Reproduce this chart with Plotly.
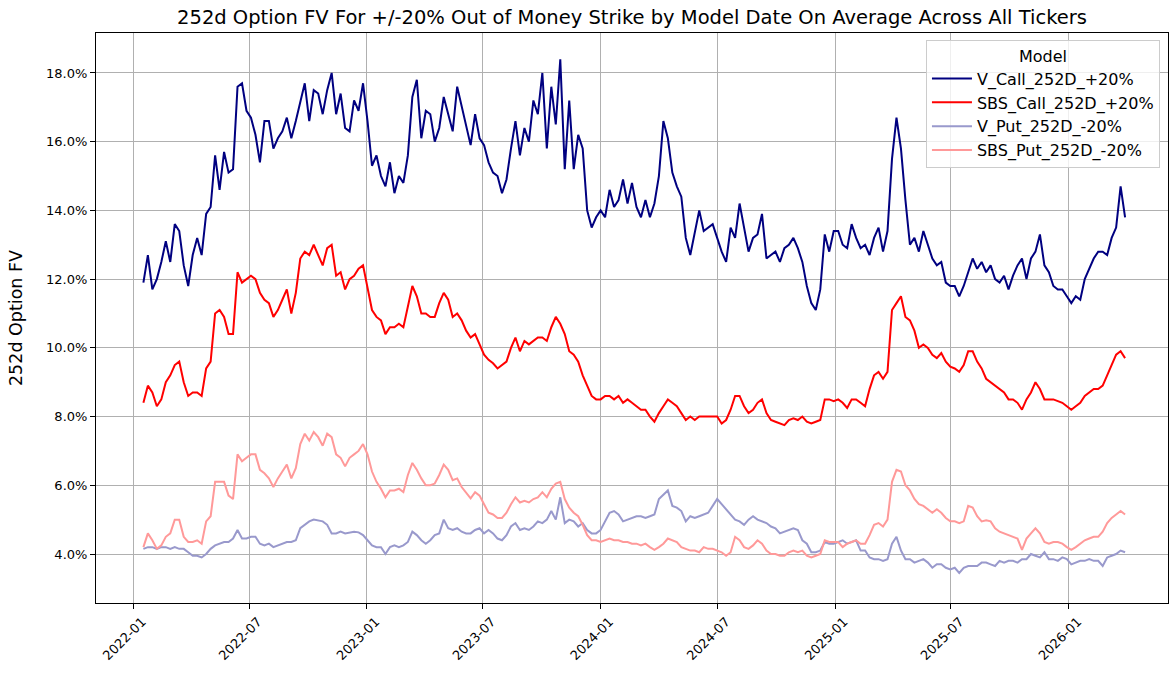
import pandas as pd
import plotly.graph_objects as go

# --- Data (weekly readings, % FV) ---
start_date = "2022-01-17"
n_weeks = 220

v_call = [
    11.9, 12.7, 11.7, 12.0, 12.5, 13.1, 12.5, 13.6, 13.4, 12.4,
    11.8, 12.7, 13.2, 12.7, 13.9, 14.1, 15.6, 14.6, 15.7, 15.1,
    15.2, 17.6, 17.7, 16.9, 16.7, 16.2, 15.4, 16.6, 16.6, 15.8,
    16.1, 16.3, 16.7, 16.1, 16.6, 17.2, 17.7, 16.6, 17.5, 17.4,
    16.8, 17.5, 18.0, 16.8, 17.4, 16.4, 16.3, 17.2, 16.9, 17.7,
    16.6, 15.3, 15.6, 15.0, 14.7, 15.4, 14.5, 15.0, 14.8, 15.6,
    17.3, 17.8, 16.1, 16.9, 16.8, 16.0, 16.4, 17.3, 16.8, 16.3,
    17.6, 17.0, 16.4, 15.9, 16.8, 16.1, 15.9, 15.4, 15.1, 15.0,
    14.5, 14.9, 15.8, 16.6, 15.6, 16.4, 16.0, 17.2, 16.8, 18.0,
    15.8, 17.6, 16.5, 18.4, 15.2, 17.2, 15.2, 16.2, 15.8, 14.0,
    13.5, 13.8, 14.0, 13.8, 14.6, 14.1, 14.3, 14.9, 14.2, 14.8,
    14.1, 13.8, 14.3, 13.8, 14.2, 15.0, 16.6, 16.1, 15.1, 14.7,
    14.4, 13.2, 12.7, 13.4, 14.0, 13.4, 13.5, 13.6, 13.2, 12.8,
    12.5, 13.5, 13.2, 14.2, 13.5, 12.8, 13.2, 13.3, 13.9, 12.6,
    12.7, 12.8, 12.5, 12.9, 13.0, 13.2, 12.9, 12.5, 11.8, 11.3,
    11.1, 11.7, 13.3, 12.8, 13.4, 13.4, 13.0, 12.9, 13.6, 13.2,
    12.9, 13.0, 12.7, 13.2, 13.5, 12.8, 13.4, 15.5, 16.7, 15.8,
    14.3, 13.0, 13.2, 12.8, 13.4, 13.0, 12.6, 12.4, 12.5, 11.9,
    11.8, 11.8, 11.5, 11.8, 12.2, 12.6, 12.3, 12.5, 12.2, 12.4,
    12.0, 11.9, 12.1, 11.7, 12.1, 12.4, 12.6, 12.0, 12.6, 12.8,
    13.3, 12.4, 12.2, 11.8, 11.7, 11.7, 11.5, 11.3, 11.5, 11.4,
    12.0, 12.3, 12.6, 12.8, 12.8, 12.7, 13.2, 13.5, 14.7, 13.8,
]

sbs_call = [
    8.4, 8.9, 8.7, 8.3, 8.5, 9.0, 9.2, 9.5, 9.6, 9.0,
    8.6, 8.7, 8.7, 8.6, 9.4, 9.6, 11.0, 11.1, 10.9, 10.4,
    10.4, 12.2, 11.9, 12.0, 12.1, 12.0, 11.6, 11.4, 11.3, 10.9,
    11.1, 11.4, 11.7, 11.0, 11.6, 12.6, 12.8, 12.7, 13.0, 12.7,
    12.4, 12.9, 13.0, 12.1, 12.2, 11.7, 12.0, 12.1, 12.3, 12.4,
    11.8, 11.1, 10.9, 10.8, 10.4, 10.6, 10.6, 10.7, 10.6, 11.2,
    11.8, 11.5, 11.0, 11.0, 10.9, 10.9, 11.3, 11.6, 11.4, 10.9,
    11.0, 10.8, 10.5, 10.3, 10.4, 10.1, 9.8, 9.65, 9.55, 9.4,
    9.5, 9.6, 10.0, 10.3, 9.9, 10.2, 10.1, 10.2, 10.3, 10.3,
    10.2, 10.6, 10.9, 10.7, 10.4, 9.9, 9.8, 9.6, 9.2, 8.9,
    8.6, 8.5, 8.5, 8.6, 8.6, 8.5, 8.6, 8.4, 8.5, 8.4,
    8.3, 8.2, 8.2, 8.0, 7.85, 8.1, 8.3, 8.5, 8.4, 8.3,
    8.1, 7.9, 8.0, 7.9, 8.0, 8.0, 8.0, 8.0, 8.0, 7.8,
    7.9, 8.2, 8.6, 8.6, 8.3, 8.1, 8.2, 8.4, 8.5, 8.1,
    7.9, 7.85, 7.8, 7.75, 7.9, 7.95, 7.9, 8.0, 7.85, 7.8,
    7.85, 7.9, 8.5, 8.5, 8.45, 8.5, 8.4, 8.25, 8.5, 8.5,
    8.4, 8.3, 8.8, 9.2, 9.3, 9.1, 9.3, 11.1, 11.3, 11.5,
    10.9, 10.8, 10.5, 10.0, 10.1, 10.0, 9.8, 9.7, 9.85, 9.6,
    9.45, 9.4, 9.3, 9.5, 9.9, 9.9, 9.6, 9.4, 9.1, 9.0,
    8.9, 8.8, 8.7, 8.5, 8.5, 8.4, 8.2, 8.5, 8.7, 9.0,
    8.8, 8.5, 8.5, 8.5, 8.45, 8.4, 8.3, 8.2, 8.3, 8.4,
    8.6, 8.7, 8.8, 8.8, 8.9, 9.2, 9.5, 9.8, 9.9, 9.7,
]

v_put = [
    4.15, 4.2, 4.2, 4.15, 4.2, 4.2, 4.15, 4.2, 4.15, 4.15,
    4.05, 3.95, 3.95, 3.9, 4.0, 4.15, 4.25, 4.3, 4.35, 4.35,
    4.45, 4.7, 4.45, 4.45, 4.5, 4.5, 4.3, 4.25, 4.3, 4.2,
    4.25, 4.3, 4.35, 4.35, 4.4, 4.75, 4.85, 4.95, 5.0, 4.98,
    4.95, 4.85, 4.6, 4.6, 4.65, 4.6, 4.62, 4.65, 4.63, 4.55,
    4.4, 4.25, 4.2, 4.2, 4.0, 4.2, 4.25, 4.2, 4.25, 4.35,
    4.65, 4.55, 4.4, 4.3, 4.4, 4.55, 4.6, 5.0, 4.75, 4.7,
    4.75, 4.65, 4.6, 4.6, 4.7, 4.75, 4.6, 4.7, 4.6, 4.45,
    4.4, 4.55, 4.8, 4.9, 4.7, 4.75, 4.7, 4.8, 4.95, 4.9,
    5.0, 5.25, 5.0, 5.65, 4.9, 5.0, 4.95, 4.8, 4.9, 4.7,
    4.6, 4.6, 4.7, 4.95, 5.2, 5.25, 5.15, 4.95, 5.0, 5.05,
    5.1, 5.1, 5.05, 5.1, 5.15, 5.6, 5.72, 5.85, 5.4, 5.35,
    5.25, 4.95, 5.1, 5.05, 5.1, 5.15, 5.2, 5.4, 5.6, 5.45,
    5.3, 5.15, 5.0, 4.95, 4.85, 5.0, 5.1, 5.0, 4.95, 4.9,
    4.8, 4.75, 4.6, 4.65, 4.7, 4.75, 4.7, 4.4, 4.3, 4.05,
    4.05, 4.1, 4.35, 4.3, 4.3, 4.35, 4.4, 4.3, 4.35, 4.4,
    4.1, 4.1, 3.9, 3.85, 3.85, 3.8, 3.85, 4.3, 4.5, 4.1,
    3.85, 3.85, 3.75, 3.8, 3.85, 3.75, 3.6, 3.7, 3.7, 3.6,
    3.55, 3.6, 3.45, 3.6, 3.65, 3.65, 3.65, 3.75, 3.75, 3.7,
    3.65, 3.8, 3.75, 3.8, 3.8, 3.75, 3.85, 3.85, 4.0, 3.95,
    3.9, 4.05, 3.85, 3.85, 3.8, 3.9, 3.85, 3.7, 3.75, 3.8,
    3.8, 3.85, 3.8, 3.8, 3.65, 3.9, 3.95, 4.0, 4.1, 4.05,
]

sbs_put = [
    4.2, 4.6, 4.4, 4.15, 4.25, 4.5, 4.6, 5.0, 5.0, 4.5,
    4.35, 4.35, 4.4, 4.3, 4.95, 5.1, 6.1, 6.1, 6.1, 5.7,
    5.6, 6.9, 6.7, 6.8, 6.9, 6.9, 6.45, 6.35, 6.2, 5.95,
    6.2, 6.4, 6.6, 6.2, 6.5, 7.2, 7.5, 7.3, 7.55, 7.4,
    7.15, 7.5, 7.4, 6.9, 6.8, 6.55, 6.8, 6.9, 7.0, 7.2,
    6.9, 6.4, 6.1, 5.9, 5.65, 5.85, 5.85, 5.9, 5.8, 6.3,
    6.65, 6.45, 6.2, 6.0, 6.0, 6.05, 6.3, 6.6, 6.45, 6.15,
    6.2, 5.95, 5.8, 5.62, 5.8, 5.7, 5.45, 5.2, 5.15, 5.05,
    5.05, 5.2, 5.45, 5.65, 5.5, 5.55, 5.5, 5.6, 5.65, 5.8,
    5.65, 5.9, 6.05, 6.1, 5.6, 5.35, 5.2, 5.1, 4.85, 4.55,
    4.4, 4.4, 4.35, 4.4, 4.45, 4.4, 4.4, 4.35, 4.35, 4.3,
    4.3, 4.25, 4.3, 4.2, 4.12, 4.2, 4.3, 4.45, 4.4, 4.35,
    4.2, 4.15, 4.1, 4.1, 4.05, 4.2, 4.15, 4.15, 4.1, 4.05,
    3.95, 4.05, 4.5, 4.4, 4.2, 4.15, 4.25, 4.4, 4.3, 4.1,
    4.0, 4.0, 3.95, 3.95, 4.05, 4.1, 4.05, 4.1, 3.95, 3.9,
    3.95, 4.0, 4.4, 4.35, 4.35, 4.35, 4.2, 4.3, 4.35, 4.4,
    4.3, 4.3, 4.55, 4.85, 4.9, 4.8, 5.0, 6.1, 6.45, 6.4,
    6.0, 5.85, 5.6, 5.45, 5.4, 5.3, 5.2, 5.3, 5.2, 5.05,
    4.95, 4.95, 4.9, 4.95, 5.4, 5.35, 5.1, 4.95, 4.98, 4.95,
    4.75, 4.65, 4.6, 4.55, 4.5, 4.45, 4.12, 4.45, 4.6, 4.75,
    4.6, 4.35, 4.3, 4.35, 4.35, 4.3, 4.2, 4.12, 4.2, 4.3,
    4.4, 4.45, 4.5, 4.5, 4.65, 4.9, 5.05, 5.15, 5.25, 5.15,
]

x_tick_vals = ["2022-01-01", "2022-07-01", "2023-01-01", "2023-07-01", "2024-01-01",
               "2024-07-01", "2025-01-01", "2025-07-01", "2026-01-01"]
x_tick_text = ["2022-01", "2022-07", "2023-01", "2023-07", "2024-01",
               "2024-07", "2025-01", "2025-07", "2026-01"]
y_tick_vals = [4, 6, 8, 10, 12, 14, 16, 18]
y_tick_text = ["4.0%", "6.0%", "8.0%", "10.0%", "12.0%", "14.0%", "16.0%", "18.0%"]

dates = pd.date_range(start_date, periods=n_weeks, freq="7D")

series = [
    ("V_Call_252D_+20%", v_call, "#000080"),
    ("SBS_Call_252D_+20%", sbs_call, "#ff0000"),
    ("V_Put_252D_-20%", v_put, "#9999cc"),
    ("SBS_Put_252D_-20%", sbs_put, "#ff9999"),
]

# --- Build figure ---
fig = go.Figure()
for name, vals, color in series:
    fig.add_trace(go.Scatter(
        x=dates, y=vals, mode="lines", name=name,
        line=dict(color=color, width=2),
        hovertemplate="%{x|%Y-%m-%d}<br>%{y:.2f}%<extra>" + name + "</extra>",
    ))

axis_style = dict(
    showgrid=True, gridcolor="#b0b0b0", gridwidth=1,
    showline=True, linecolor="black", linewidth=1, mirror=True,
    ticks="outside", ticklen=5, tickcolor="black", zeroline=False,
    automargin=False, tickfont=dict(size=13),
)

fig.update_layout(
    width=1169, height=677, autosize=False,
    margin=dict(l=96, r=1, t=33, b=74),
    paper_bgcolor="white", plot_bgcolor="white",
    font=dict(family="DejaVu Sans", size=13, color="black"),
    title=dict(text="252d Option FV For +/-20% Out of Money Strike by Model Date On Average Across All Tickers",
               x=0.5, xref="paper", xanchor="center", y=0.975, yanchor="middle",
               font=dict(size=19.5)),
    legend=dict(
        title=dict(text="Model", side="top center", font=dict(size=16)),
        x=0.9925, y=0.988, xanchor="right", yanchor="top",
        bgcolor="rgba(255,255,255,0.8)", bordercolor="#cccccc", borderwidth=1,
        font=dict(size=16), tracegroupgap=0, itemwidth=40,
    ),
    showlegend=True,
)
fig.update_xaxes(range=["2021-11-04", "2026-06-05"], tickvals=x_tick_vals,
                 ticktext=x_tick_text, tickangle=-45, ticklabelshift=9, **axis_style)
fig.update_yaxes(range=[2.574, 19.163], tickvals=y_tick_vals, ticktext=y_tick_text,
                 title=dict(text="252d Option FV", font=dict(size=17.5), standoff=18),
                 **axis_style)

# page has a default body margin; drop it so the figure sits at (0, 0)
fix_page = (
    "document.body.style.margin='0';document.body.style.overflow='hidden';"
    "var gd=document.getElementById('{plot_id}');"
    "Plotly.relayout(gd,{width:1169,height:677});"
)
fig.write_html("out.html", config={"responsive": False, "displayModeBar": False},
               post_script=fix_page)
